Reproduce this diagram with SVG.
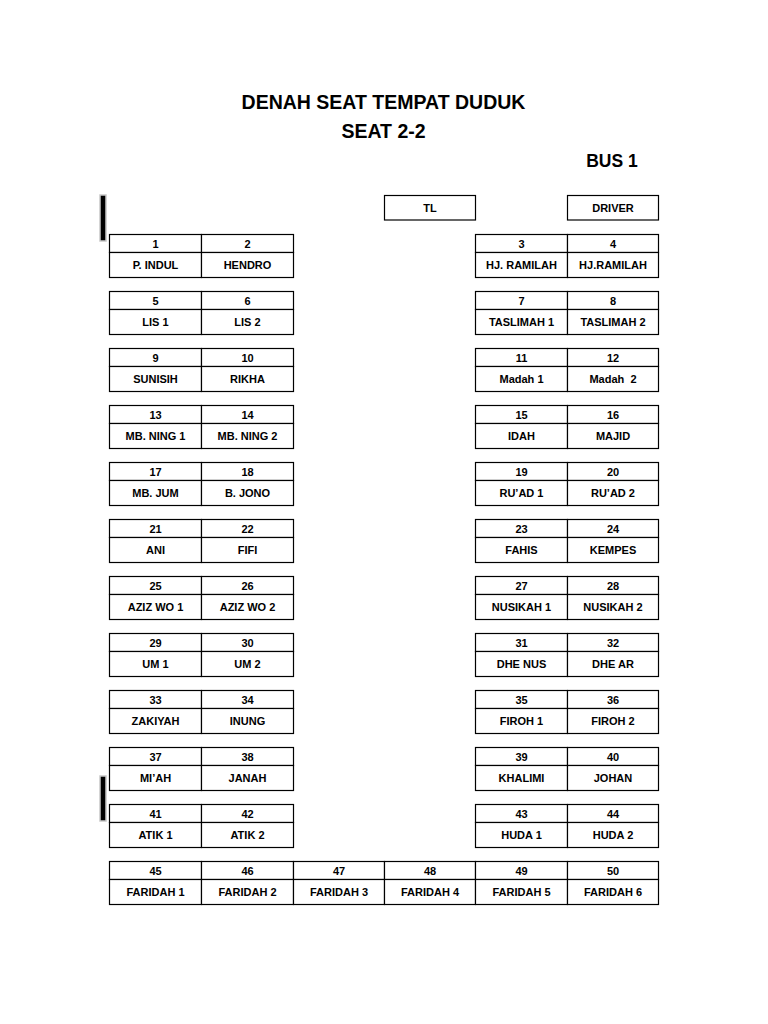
<svg xmlns="http://www.w3.org/2000/svg" width="768" height="1024" viewBox="0 0 768 1024">
<style>
rect.c{fill:#fff;stroke:#000;stroke-width:1.2}
text{font-family:"Liberation Sans",Arial,sans-serif;font-weight:bold;fill:#000;text-anchor:middle}
.t{font-size:19.5px}
.s{font-size:11px;white-space:pre}
.bar{fill:#000;stroke:#c8c8c8;stroke-width:1.5}
</style>
<rect width="768" height="1024" fill="#fff"/>
<g id="title">
<text class="t" x="383.5" y="109">DENAH SEAT TEMPAT DUDUK</text>
<text class="t" x="383.5" y="138">SEAT 2-2</text>
<text class="t" x="612" y="166.5" style="font-size:17.5px">BUS 1</text>
</g>
<g id="markers">
<rect class="bar" x="100" y="195" width="6" height="46"/>
<rect class="bar" x="100" y="776" width="6" height="45"/>
</g>
<g id="tl"><rect class="c" x="384.5" y="195.5" width="91" height="24.5"/><text class="s" x="430" y="211.5">TL</text></g>
<g id="driver"><rect class="c" x="567.5" y="195.5" width="91" height="24.5"/><text class="s" x="613" y="211.5">DRIVER</text></g>
<g id="connectors"></g>
<defs>
<g id="cellL1"><rect class="c" x="109.5" y="0" width="92" height="18"/><rect class="c" x="109.5" y="18" width="92" height="25"/></g>
<g id="cellL2"><rect class="c" x="201.5" y="0" width="92" height="18"/><rect class="c" x="201.5" y="18" width="92" height="25"/></g>
<g id="cellM1"><rect class="c" x="293.5" y="0" width="91" height="18"/><rect class="c" x="293.5" y="18" width="91" height="25"/></g>
<g id="cellM2"><rect class="c" x="384.5" y="0" width="91" height="18"/><rect class="c" x="384.5" y="18" width="91" height="25"/></g>
<g id="cellR1"><rect class="c" x="475.5" y="0" width="92" height="18"/><rect class="c" x="475.5" y="18" width="92" height="25"/></g>
<g id="cellR2"><rect class="c" x="567.5" y="0" width="91" height="18"/><rect class="c" x="567.5" y="18" width="91" height="25"/></g>
</defs>

<g id="row1" transform="translate(0,234.5)">
<g id="seat-1"><use href="#cellL1"/><text class="s" x="155.5" y="13">1</text><text class="s" x="155.5" y="34">P. INDUL</text></g>
<g id="seat-2"><use href="#cellL2"/><text class="s" x="247.5" y="13">2</text><text class="s" x="247.5" y="34">HENDRO</text></g>
<g id="seat-3"><use href="#cellR1"/><text class="s" x="521.5" y="13">3</text><text class="s" x="521.5" y="34">HJ. RAMILAH</text></g>
<g id="seat-4"><use href="#cellR2"/><text class="s" x="613" y="13">4</text><text class="s" x="613" y="34">HJ.RAMILAH</text></g>
</g>
<g id="row2" transform="translate(0,291.5)">
<g id="seat-5"><use href="#cellL1"/><text class="s" x="155.5" y="13">5</text><text class="s" x="155.5" y="34">LIS 1</text></g>
<g id="seat-6"><use href="#cellL2"/><text class="s" x="247.5" y="13">6</text><text class="s" x="247.5" y="34">LIS 2</text></g>
<g id="seat-7"><use href="#cellR1"/><text class="s" x="521.5" y="13">7</text><text class="s" x="521.5" y="34">TASLIMAH 1</text></g>
<g id="seat-8"><use href="#cellR2"/><text class="s" x="613" y="13">8</text><text class="s" x="613" y="34">TASLIMAH 2</text></g>
</g>
<g id="row3" transform="translate(0,348.5)">
<g id="seat-9"><use href="#cellL1"/><text class="s" x="155.5" y="13">9</text><text class="s" x="155.5" y="34">SUNISIH</text></g>
<g id="seat-10"><use href="#cellL2"/><text class="s" x="247.5" y="13">10</text><text class="s" x="247.5" y="34">RIKHA</text></g>
<g id="seat-11"><use href="#cellR1"/><text class="s" x="521.5" y="13">11</text><text class="s" x="521.5" y="34">Madah 1</text></g>
<g id="seat-12"><use href="#cellR2"/><text class="s" x="613" y="13">12</text><text class="s" x="613" y="34">Madah  2</text></g>
</g>
<g id="row4" transform="translate(0,405.5)">
<g id="seat-13"><use href="#cellL1"/><text class="s" x="155.5" y="13">13</text><text class="s" x="155.5" y="34">MB. NING 1</text></g>
<g id="seat-14"><use href="#cellL2"/><text class="s" x="247.5" y="13">14</text><text class="s" x="247.5" y="34">MB. NING 2</text></g>
<g id="seat-15"><use href="#cellR1"/><text class="s" x="521.5" y="13">15</text><text class="s" x="521.5" y="34">IDAH</text></g>
<g id="seat-16"><use href="#cellR2"/><text class="s" x="613" y="13">16</text><text class="s" x="613" y="34">MAJID</text></g>
</g>
<g id="row5" transform="translate(0,462.5)">
<g id="seat-17"><use href="#cellL1"/><text class="s" x="155.5" y="13">17</text><text class="s" x="155.5" y="34">MB. JUM</text></g>
<g id="seat-18"><use href="#cellL2"/><text class="s" x="247.5" y="13">18</text><text class="s" x="247.5" y="34">B. JONO</text></g>
<g id="seat-19"><use href="#cellR1"/><text class="s" x="521.5" y="13">19</text><text class="s" x="521.5" y="34">RU’AD 1</text></g>
<g id="seat-20"><use href="#cellR2"/><text class="s" x="613" y="13">20</text><text class="s" x="613" y="34">RU’AD 2</text></g>
</g>
<g id="row6" transform="translate(0,519.5)">
<g id="seat-21"><use href="#cellL1"/><text class="s" x="155.5" y="13">21</text><text class="s" x="155.5" y="34">ANI</text></g>
<g id="seat-22"><use href="#cellL2"/><text class="s" x="247.5" y="13">22</text><text class="s" x="247.5" y="34">FIFI</text></g>
<g id="seat-23"><use href="#cellR1"/><text class="s" x="521.5" y="13">23</text><text class="s" x="521.5" y="34">FAHIS</text></g>
<g id="seat-24"><use href="#cellR2"/><text class="s" x="613" y="13">24</text><text class="s" x="613" y="34">KEMPES</text></g>
</g>
<g id="row7" transform="translate(0,576.5)">
<g id="seat-25"><use href="#cellL1"/><text class="s" x="155.5" y="13">25</text><text class="s" x="155.5" y="34">AZIZ WO 1</text></g>
<g id="seat-26"><use href="#cellL2"/><text class="s" x="247.5" y="13">26</text><text class="s" x="247.5" y="34">AZIZ WO 2</text></g>
<g id="seat-27"><use href="#cellR1"/><text class="s" x="521.5" y="13">27</text><text class="s" x="521.5" y="34">NUSIKAH 1</text></g>
<g id="seat-28"><use href="#cellR2"/><text class="s" x="613" y="13">28</text><text class="s" x="613" y="34">NUSIKAH 2</text></g>
</g>
<g id="row8" transform="translate(0,633.5)">
<g id="seat-29"><use href="#cellL1"/><text class="s" x="155.5" y="13">29</text><text class="s" x="155.5" y="34">UM 1</text></g>
<g id="seat-30"><use href="#cellL2"/><text class="s" x="247.5" y="13">30</text><text class="s" x="247.5" y="34">UM 2</text></g>
<g id="seat-31"><use href="#cellR1"/><text class="s" x="521.5" y="13">31</text><text class="s" x="521.5" y="34">DHE NUS</text></g>
<g id="seat-32"><use href="#cellR2"/><text class="s" x="613" y="13">32</text><text class="s" x="613" y="34">DHE AR</text></g>
</g>
<g id="row9" transform="translate(0,690.5)">
<g id="seat-33"><use href="#cellL1"/><text class="s" x="155.5" y="13">33</text><text class="s" x="155.5" y="34">ZAKIYAH</text></g>
<g id="seat-34"><use href="#cellL2"/><text class="s" x="247.5" y="13">34</text><text class="s" x="247.5" y="34">INUNG</text></g>
<g id="seat-35"><use href="#cellR1"/><text class="s" x="521.5" y="13">35</text><text class="s" x="521.5" y="34">FIROH 1</text></g>
<g id="seat-36"><use href="#cellR2"/><text class="s" x="613" y="13">36</text><text class="s" x="613" y="34">FIROH 2</text></g>
</g>
<g id="row10" transform="translate(0,747.5)">
<g id="seat-37"><use href="#cellL1"/><text class="s" x="155.5" y="13">37</text><text class="s" x="155.5" y="34">MI’AH</text></g>
<g id="seat-38"><use href="#cellL2"/><text class="s" x="247.5" y="13">38</text><text class="s" x="247.5" y="34">JANAH</text></g>
<g id="seat-39"><use href="#cellR1"/><text class="s" x="521.5" y="13">39</text><text class="s" x="521.5" y="34">KHALIMI</text></g>
<g id="seat-40"><use href="#cellR2"/><text class="s" x="613" y="13">40</text><text class="s" x="613" y="34">JOHAN</text></g>
</g>
<g id="row11" transform="translate(0,804.5)">
<g id="seat-41"><use href="#cellL1"/><text class="s" x="155.5" y="13">41</text><text class="s" x="155.5" y="34">ATIK 1</text></g>
<g id="seat-42"><use href="#cellL2"/><text class="s" x="247.5" y="13">42</text><text class="s" x="247.5" y="34">ATIK 2</text></g>
<g id="seat-43"><use href="#cellR1"/><text class="s" x="521.5" y="13">43</text><text class="s" x="521.5" y="34">HUDA 1</text></g>
<g id="seat-44"><use href="#cellR2"/><text class="s" x="613" y="13">44</text><text class="s" x="613" y="34">HUDA 2</text></g>
</g>
<g id="row12" transform="translate(0,861.5)">
<g id="seat-45"><use href="#cellL1"/><text class="s" x="155.5" y="13">45</text><text class="s" x="155.5" y="34">FARIDAH 1</text></g>
<g id="seat-46"><use href="#cellL2"/><text class="s" x="247.5" y="13">46</text><text class="s" x="247.5" y="34">FARIDAH 2</text></g>
<g id="seat-47"><use href="#cellM1"/><text class="s" x="339" y="13">47</text><text class="s" x="339" y="34">FARIDAH 3</text></g>
<g id="seat-48"><use href="#cellM2"/><text class="s" x="430" y="13">48</text><text class="s" x="430" y="34">FARIDAH 4</text></g>
<g id="seat-49"><use href="#cellR1"/><text class="s" x="521.5" y="13">49</text><text class="s" x="521.5" y="34">FARIDAH 5</text></g>
<g id="seat-50"><use href="#cellR2"/><text class="s" x="613" y="13">50</text><text class="s" x="613" y="34">FARIDAH 6</text></g>
</g>
</svg>
